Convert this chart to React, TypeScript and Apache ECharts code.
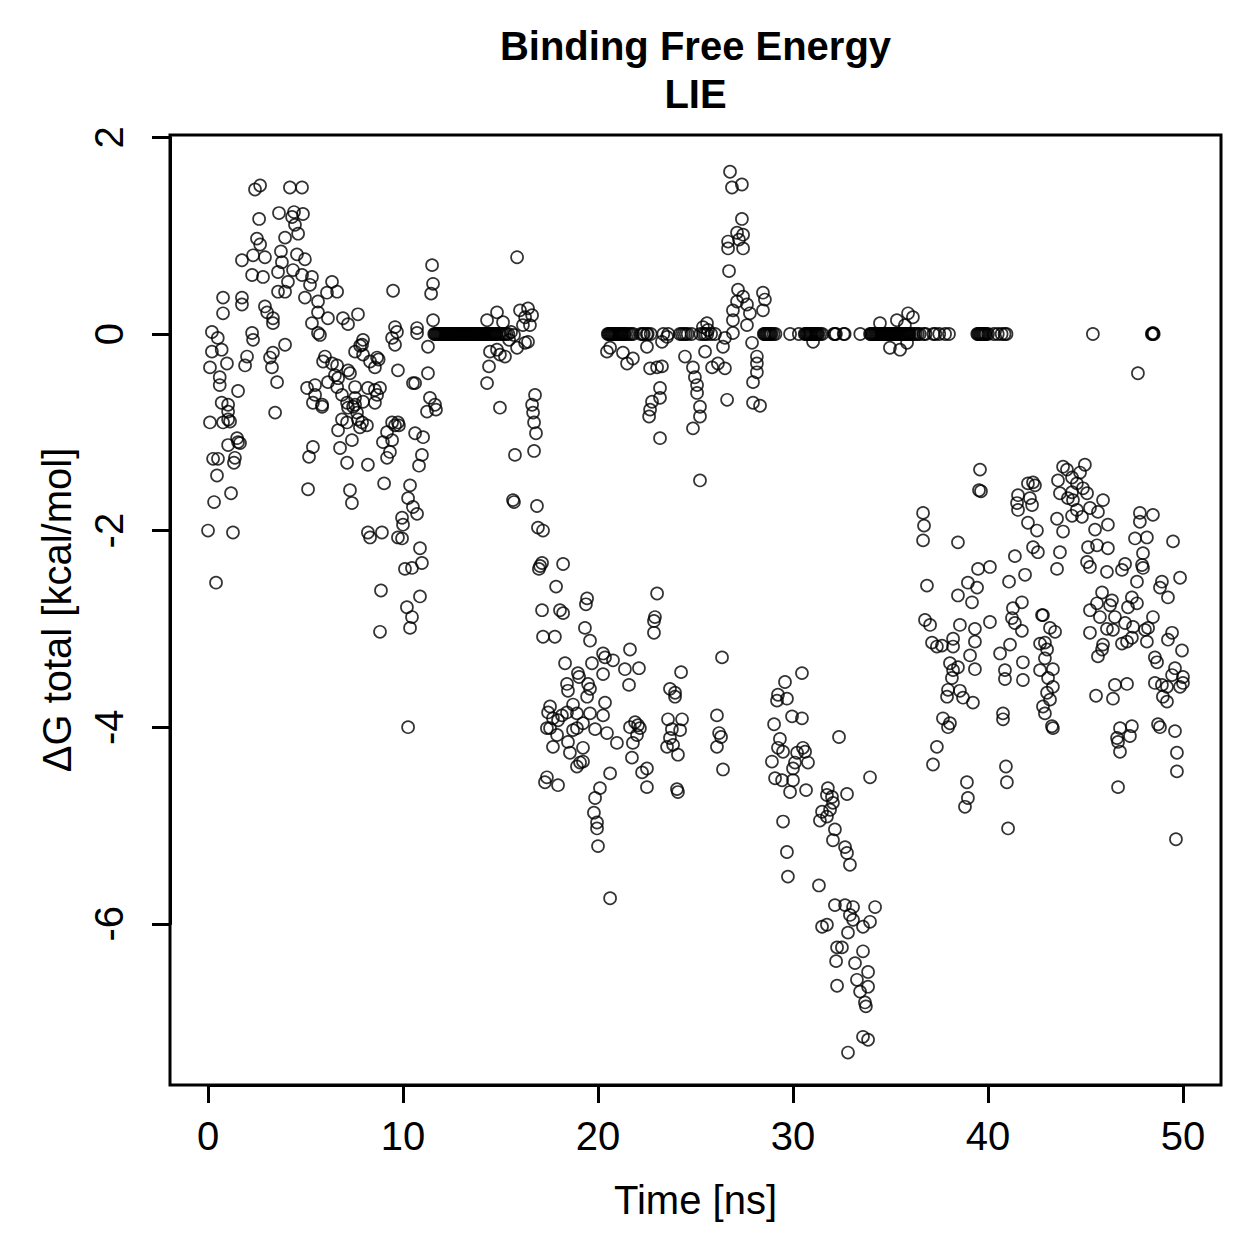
import React, { useEffect, useRef } from "react";
import * as echarts from "echarts";

// Tick values (R-style axes)
const xTicks = [0, 10, 20, 30, 40, 50];
const yTicks = [-6, -4, -2, 0, 2];
const titleLines = ["Binding Free Energy", "LIE"];
const xLabel = "Time [ns]";
const yLabel = "ΔG total [kcal/mol]";

// Data: [time ns, ΔG kcal/mol]
const pts0to5: number[][] = [
  [2.41,1.47],[2.67,1.51],[4.2,1.49],[4.82,1.49],[2.62,1.17],[3.64,1.23],[4.41,1.24],[4.87,1.22],[4.31,1.19],[4.46,1.11],
  [4.62,1.02],[3.95,0.98],[2.51,0.97],[2.67,0.91],[1.74,0.75],[2.31,0.8],[2.92,0.78],[3.74,0.84],[4.56,0.81],[4.97,0.76],
  [3.79,0.73],[3.59,0.63],[2.26,0.6],[2.82,0.58],[4.36,0.65],[4.82,0.6],[5.33,0.58],[5.23,0.5],[4.1,0.53],[3.59,0.43],
  [3.95,0.43],[4.97,0.37],[0.77,0.37],[1.74,0.37],[1.74,0.3],[0.77,0.21],[2.92,0.28],[3.03,0.22],[3.33,0.16],[3.33,0.11],
  [5.33,0.11],[0.2,0.02],[0.5,-0.04],[2.26,0.01],[2.31,-0.06],[3.95,-0.11],[0.2,-0.18],[0.7,-0.16],[0.1,-0.34],[0.97,-0.3],
  [2.0,-0.23],[1.9,-0.32],[3.18,-0.24],[3.28,-0.34],[3.33,-0.19],[0.6,-0.44],[0.6,-0.52],[1.54,-0.58],[3.54,-0.49],[5.08,-0.55],
  [5.49,-0.52],[5.49,-0.62],[5.38,-0.7],[0.7,-0.7],[1.03,-0.72],[1.03,-0.79],[3.44,-0.8],[0.1,-0.9],[0.77,-0.9],[1.03,-0.87],
  [1.13,-0.89],[1.03,-1.13],[1.49,-1.06],[1.54,-1.1],[1.64,-1.11],[0.26,-1.27],[0.51,-1.27],[1.38,-1.26],[1.33,-1.31],[0.46,-1.44],
  [1.18,-1.62],[0.31,-1.71],[0,-2.0],[1.28,-2.02],[0.41,-2.53],[5.38,-1.15],[5.18,-1.25],[5.13,-1.58]
];

const pts5to12: number[][] = [
  [6.36,0.53],[6.62,0.43],[6.1,0.42],[9.49,0.44],[5.64,0.33],[5.64,0.22],[6.15,0.16],[5.74,-0.01],[7.69,0.2],[6.92,0.16],
  [7.18,0.1],[5.64,0.01],[9.59,0.07],[9.69,0.02],[10.72,0.06],[9.44,-0.04],[9.59,-0.11],[6.0,-0.23],[5.9,-0.28],[6.36,-0.3],
  [6.62,-0.32],[6.51,-0.42],[7.28,-0.4],[7.54,-0.18],[7.9,-0.11],[7.8,-0.12],[7.95,-0.06],[8.31,-0.28],[8.67,-0.24],[8.56,-0.34],
  [8.75,-0.26],[9.74,-0.37],[10.51,-0.5],[7.95,-0.21],[5.85,-0.72],[6.15,-0.49],[6.67,-0.45],[6.62,-0.54],[6.87,-0.62],[7.18,-0.37],
  [7.54,-0.54],[7.54,-0.65],[7.95,-0.69],[8.2,-0.55],[8.56,-0.57],[8.82,-0.55],[8.67,-0.62],[8.56,-0.7],[6.87,-0.87],[7.69,-0.87],
  [7.9,-0.9],[9.44,-0.9],[9.74,-0.9],[7.18,-0.75],[7.54,-0.72],[5.85,-0.74],[7.13,-0.7],[7.44,-0.74],[7.64,-0.8],[6.67,-0.98],
  [7.13,-0.9],[7.38,-1.08],[6.77,-1.16],[7.13,-1.31],[7.79,-0.95],[8.15,-0.93],[8.2,-1.33],[7.28,-1.59],[7.38,-1.72],[8.97,-1.1],
  [9.18,-1.0],[9.44,-1.08],[9.59,-0.93],[9.18,-1.26],[9.33,-1.2],[9.03,-1.52],[9.79,-0.93],[10.26,-1.67],[10.51,-1.76],[10.72,-1.83],
  [9.95,-1.87],[10.0,-1.94],[9.95,-2.08],[9.74,-2.07],[8.2,-2.02],[8.31,-2.07],[8.92,-2.02],[10.87,-2.18],[10.97,-2.33],[10.1,-2.39],
  [10.46,-2.38],[10.87,-2.67],[8.87,-2.61],[10.2,-2.78],[10.46,-2.88],[10.36,-2.99],[8.82,-3.03],[10.26,-4.0],
  [11.49,0.7],[11.54,0.51],[11.44,0.41],[11.54,0.14],[10.72,0.01],[11.28,-0.13],[11.28,-0.4],[10.62,-0.5],[11.38,-0.65],[11.64,-0.72],
  [11.23,-0.79],[11.69,-0.77],[10.62,-1.01],[11.03,-1.05],[10.97,-1.23],[10.82,-1.34],[10.36,-1.54]
];

const pts12to17: number[][] = [
  [14.82,0.22],[14.31,0.14],[15.13,0.12],[15.85,0.78],[16.0,0.24],[16.41,0.26],[16.26,0.17],[16.62,0.19],[16.15,0.09],[16.51,0.09],
  [15.54,0.02],[15.69,-0.01],[15.44,-0.06],[14.46,-0.18],[14.82,-0.16],[14.97,-0.21],[15.23,-0.23],[15.85,-0.14],[16.26,-0.09],[16.41,-0.08],
  [14.41,-0.33],[14.31,-0.5],[14.97,-0.75],[16.77,-0.62],[16.62,-0.72],[16.67,-0.8],[16.72,-0.9],[16.82,-1.01],[16.72,-1.19],[15.74,-1.23],
  [15.64,-1.69],[15.69,-1.71]
];

// Times of the frames that sit on ΔG = 0 (the solid runs along the zero line)
const zeroRunTimes: number[] = [
  11.6,11.65,11.7,11.75,11.8,11.85,11.9,11.95,12.0,12.05,12.1,12.15,12.2,12.25,12.3,12.35,12.4,12.45,12.5,12.55,
  12.6,12.65,12.7,12.75,12.8,12.85,12.9,12.95,13.0,13.05,13.1,13.15,13.2,13.25,13.3,13.35,13.4,13.45,13.5,13.55,
  13.6,13.65,13.7,13.75,13.8,13.85,13.9,13.95,14.0,14.05,14.1,14.15,14.2,14.25,14.3,14.35,14.4,14.45,14.5,14.55,
  14.6,14.65,14.7,14.75,14.8,14.9,15.0,15.1,15.2,15.3,15.4,
  20.5,20.55,20.6,20.65,20.7,20.75,20.8,20.85,20.9,20.95,21.0,21.05,21.1,21.15,21.2,21.25,21.3,21.35,21.4,21.5,
  21.6,21.7,21.8,22.2,22.3,22.35,22.5,22.55,22.7,23.35,23.6,24.2,24.3,24.4,24.5,24.6,24.8,25.25,25.4,25.5,
  25.6,25.8,26.0,28.5,28.55,28.6,28.65,28.7,28.75,28.8,28.85,28.9,29.0,29.1,
  29.85,30.3,30.6,30.65,30.7,30.75,30.8,30.85,30.9,30.95,31.0,31.05,31.1,31.15,31.2,31.25,31.3,31.4,31.5,32.1,
  32.15,32.2,32.6,32.65,33.45,33.95,34.0,34.05,34.1,34.15,34.2,34.25,34.3,34.35,34.4,34.45,34.5,34.55,34.6,34.65,
  34.7,34.75,34.8,34.85,34.9,34.95,35.0,35.05,35.1,35.15,35.2,35.25,35.3,35.35,35.4,35.45,35.5,35.55,35.6,35.65,
  35.7,35.75,35.8,35.85,35.9,35.95,36.0,36.1,36.2,36.3,36.4,36.5,36.7,36.8,37.2,37.3,37.5,37.8,38.0,
  39.45,39.5,39.55,39.6,39.65,39.7,39.75,39.8,39.85,39.9,40.0,40.3,40.5,40.7,40.85,40.95,
  45.38,48.4,48.45,48.5
];

const pts17to21: number[][] = [
  [16.87,-1.75],[16.92,-1.97],[17.18,-2.0],[17.13,-2.33],[16.97,-2.39],[17.03,-2.36],[18.21,-2.34],[17.85,-2.57],[17.13,-2.81],[18.05,-2.81],
  [18.21,-2.84],[19.44,-2.69],[19.38,-2.75],[17.18,-3.08],[17.79,-3.08],[19.33,-2.99],[19.59,-3.12],[18.31,-3.35],[19.69,-3.35],[20.26,-3.25],
  [20.36,-3.29],[20.77,-3.32],[20.26,-3.46],[18.97,-3.45],[19.03,-3.49],[18.41,-3.56],[18.46,-3.63],[19.49,-3.56],[19.59,-3.61],[19.44,-3.69],
  [18.72,-3.77],[19.59,-3.86],[20.36,-3.75],[20.26,-3.88],[18.92,-3.86],[17.54,-3.79],[17.44,-3.85],[18.41,-3.85],[18.15,-3.88],[17.69,-3.91],
  [17.95,-3.93],[17.38,-4.01],[17.54,-4.01],[18.92,-4.01],[18.72,-4.03],[19.23,-3.96],[19.85,-4.02],[20.46,-4.06],[20.97,-4.16],[17.9,-4.08],
  [17.69,-4.2],[18.46,-4.15],[18.56,-4.26],[19.23,-4.21],[19.23,-4.35],[19.08,-4.36],[18.92,-4.4],[17.38,-4.51],[17.28,-4.56],[17.95,-4.59],
  [20.62,-4.47],[20.1,-4.62],[19.85,-4.72],[19.79,-4.87],[19.95,-4.97],[19.95,-5.03],[20.0,-5.21],[20.62,-5.74]
];

const pts21to27low: number[][] = [
  [21.64,-3.21],[21.38,-3.41],[22.1,-3.4],[21.59,-3.57],[23.03,-2.64],[22.92,-2.88],[22.87,-2.92],[22.87,-3.04],[26.36,-3.29],[24.26,-3.44],
  [23.69,-3.61],[23.95,-3.65],[23.95,-3.69],[21.64,-4.0],[21.9,-3.95],[22.05,-3.98],[22.15,-4.01],[22.0,-4.08],[21.79,-4.16],[21.74,-4.31],
  [22.26,-4.46],[22.51,-4.42],[22.51,-4.61],[23.59,-3.92],[24.31,-3.92],[23.79,-4.02],[24.21,-4.03],[23.69,-4.11],[23.54,-4.2],[23.85,-4.18],
  [24.1,-4.28],[24.05,-4.63],[24.1,-4.66],[26.1,-3.88],[26.21,-4.06],[26.31,-4.1],[26.1,-4.2],[26.41,-4.43]
];

const pts20to29top: number[][] = [
  [25.59,0.11],[25.38,0.07],
  [20.46,-0.18],[20.62,-0.14],[21.28,-0.19],[21.49,-0.3],[21.79,-0.25],[22.51,-0.13],[22.67,-0.35],[23.03,-0.34],[23.28,-0.33],[23.28,-0.08],
  [23.54,-0.03],[23.18,-0.55],[23.18,-0.65],[22.77,-0.69],[22.67,-0.77],[22.62,-0.84],[23.18,-1.06],
  [24.46,-0.23],[24.87,-0.34],[24.97,-0.44],[25.08,-0.52],[25.08,-0.6],[25.23,-0.74],[25.23,-0.84],[24.87,-0.96],[25.49,-0.18],[25.85,-0.34],
  [26.15,-0.3],[26.51,-0.35],[26.62,-0.67],[25.23,-1.49],[25.64,0.04],[26.51,-0.04],[26.92,0.01],[26.41,-0.13],
  [26.92,0.24],[26.92,0.14],[27.13,0.33],[27.18,0.45],[27.44,0.38],[27.64,0.3],[27.79,0.21],[27.64,0.09],[27.9,-0.09],[28.15,-0.23],
  [28.15,-0.3],[28.15,-0.39],[27.95,-0.49],[27.95,-0.7],[28.31,-0.73],[28.46,0.42],[28.56,0.35],[28.46,0.24],
  [26.77,1.65],[26.87,1.49],[27.38,1.52],[27.38,1.17],[27.13,1.03],[27.44,1.01],[27.23,0.96],[26.67,0.94],[26.67,0.87],[27.44,0.87],
  [26.72,0.64]
];

const pts28to35low: number[][] = [
  [30.46,-3.45],[29.59,-3.54],[29.23,-3.67],[29.18,-3.73],[29.69,-3.71],[29.95,-3.89],[30.46,-3.91],[29.03,-3.97],[29.33,-4.12],[29.23,-4.21],
  [32.36,-4.1],[29.49,-4.25],[30.21,-4.26],[30.51,-4.21],[30.62,-4.25],[28.92,-4.35],[30.1,-4.36],[30.77,-4.36],[30.0,-4.42],[29.08,-4.52],
  [29.44,-4.54],[30.0,-4.54],[29.85,-4.66],[30.67,-4.64],[33.95,-4.51],[31.79,-4.62],[31.74,-4.69],[32.0,-4.71],[32.77,-4.68],[32.05,-4.77],
  [31.49,-4.86],[31.9,-4.84],[31.38,-4.95],[31.74,-4.91],[29.49,-4.96],[32.15,-5.04],[32.05,-5.15],[32.67,-5.22],[32.77,-5.28],[32.92,-5.4],
  [29.69,-5.27],[29.74,-5.52],[31.33,-5.61],[32.15,-5.81],[32.67,-5.81],[33.08,-5.83],[34.21,-5.83],[32.92,-5.91],[33.08,-5.96],[33.95,-5.98],
  [33.59,-6.03],[31.49,-6.03],[31.74,-6.01],[32.82,-6.09],[32.26,-6.24],[32.51,-6.24],[33.59,-6.28],[32.21,-6.38],[33.18,-6.4],[33.85,-6.49],
  [33.28,-6.57],[33.85,-6.64],[32.26,-6.63],[33.44,-6.69],[33.69,-6.8],[33.74,-6.84],[33.59,-7.15],[33.85,-7.18],[32.82,-7.31]
];

const pts30to49top: number[][] = [
  [34.46,0.11],[35.33,0.14],[35.9,0.21],[36.15,0.17],[35.74,0.09],[31.03,-0.08],[34.97,-0.14],[35.49,-0.16],[35.85,-0.09],
  [48.46,0.01],[47.69,-0.4]
];

const pts36to43low: number[][] = [
  [39.59,-1.38],[39.54,-1.59],[39.64,-1.6],[36.67,-1.82],[36.72,-1.95],[36.67,-2.1],[38.46,-2.12],[42.05,-1.52],[42.31,-1.51],[42.41,-1.54],
  [41.54,-1.64],[41.49,-1.72],[41.54,-1.79],[42.15,-1.67],[42.26,-1.74],[42.05,-1.92],[42.51,-2.0],[42.31,-2.17],[42.56,-2.22],[41.38,-2.26],
  [41.9,-2.45],[41.08,-2.52],[39.49,-2.39],[40.1,-2.37],[38.97,-2.53],[39.44,-2.58],[38.46,-2.66],[39.18,-2.73],[36.87,-2.56],[41.28,-2.79],
  [41.74,-2.73],[42.77,-2.86],[41.23,-2.89],[41.38,-2.94],[41.74,-3.02],[36.77,-2.91],[37.03,-2.96],[40.1,-2.93],[38.56,-2.96],[39.33,-3.0],
  [41.13,-3.16],[40.62,-3.25],[37.13,-3.14],[37.38,-3.18],[37.64,-3.17],[38.21,-3.1],[38.21,-3.18],[39.33,-3.13],[39.08,-3.27],[41.79,-3.34],
  [42.67,-3.15],[42.67,-3.42],[38.05,-3.35],[38.21,-3.42],[38.46,-3.39],[39.33,-3.41],[40.87,-3.42],[40.87,-3.51],[41.79,-3.52],[38.15,-3.5],
  [37.95,-3.62],[37.9,-3.69],[38.56,-3.63],[38.72,-3.7],[39.23,-3.75],[37.69,-3.91],[38.05,-3.96],[37.95,-4.0],[40.77,-3.86],[40.77,-3.92],
  [37.38,-4.2],[37.18,-4.38],[38.92,-4.56],[38.97,-4.72],[38.82,-4.81],[40.92,-4.4],[40.97,-4.56],[41.03,-5.03]
];

const pts43to50low: number[][] = [
  [43.85,-1.35],[44.05,-1.38],[44.97,-1.33],[44.72,-1.41],[43.59,-1.49],[44.31,-1.46],[44.56,-1.52],[44.87,-1.57],[43.69,-1.62],[44.31,-1.61],
  [45.08,-1.62],[44.1,-1.67],[44.36,-1.69],[45.9,-1.69],[44.56,-1.79],[45.23,-1.77],[45.64,-1.81],[44.31,-1.85],[44.82,-1.86],[43.54,-1.88],
  [43.85,-2.01],[46.15,-1.94],[45.49,-1.99],[47.79,-1.82],[47.79,-1.91],[48.46,-1.84],[47.54,-2.08],[48.15,-2.07],[49.49,-2.11],[45.13,-2.17],
  [45.59,-2.15],[46.15,-2.18],[43.69,-2.22],[47.95,-2.23],[43.54,-2.39],[45.08,-2.32],[45.23,-2.37],[46.1,-2.42],[46.87,-2.4],[47.03,-2.34],
  [47.9,-2.35],[47.95,-2.38],[47.64,-2.52],[49.85,-2.48],[48.92,-2.52],[48.82,-2.58],[49.23,-2.68],[45.85,-2.63],[45.59,-2.74],[46.36,-2.71],
  [46.26,-2.76],[45.23,-2.81],[45.74,-2.88],[46.51,-2.88],[47.38,-2.68],[47.64,-2.74],[47.18,-2.78],[48.46,-2.88],[45.23,-3.04],[46.1,-3.0],
  [46.41,-3.01],[47.03,-2.94],[47.44,-2.98],[48.05,-3.01],[48.21,-2.99],[48.15,-3.13],[49.23,-3.11],[49.44,-3.04],[49.95,-3.22],[45.9,-3.16],
  [45.85,-3.21],[45.64,-3.28],[46.87,-3.15],[47.13,-3.13],[47.38,-3.09],[48.56,-3.29],[48.67,-3.34],[49.59,-3.4],[49.44,-3.47],[50.0,-3.49],
  [48.56,-3.55],[48.92,-3.57],[49.18,-3.59],[49.85,-3.59],[50.0,-3.55],[48.97,-3.69],[49.18,-3.74],[46.51,-3.57],[47.13,-3.56],[45.54,-3.68],
  [46.41,-3.71],[48.72,-3.97],[48.82,-4.0],[49.59,-4.04],[46.77,-4.01],[47.38,-3.99],[47.28,-4.09],[46.62,-4.11],[46.67,-4.15],[46.77,-4.25],
  [49.69,-4.26],[49.69,-4.45],[46.67,-4.61],[49.64,-5.14],
  [42.82,-2.86],[43.18,-2.99],[43.44,-3.03],[42.92,-3.14],[43.03,-3.21],[42.92,-3.3],[43.33,-3.41],[43.08,-3.5],[43.33,-3.59],[43.03,-3.65],
  [43.18,-3.72],[42.82,-3.79],[42.92,-3.86],[43.28,-3.99],[43.33,-4.01]
];

const FONT = '"Liberation Sans", Arial, Helvetica, sans-serif';

export default function App() {
  const ref = useRef<HTMLDivElement>(null);
  useEffect(() => {
    if (!ref.current) return;
    const chart = echarts.init(ref.current, null, { renderer: "svg" });
    const zeroRun = zeroRunTimes.map((t) => [t, 0]);
    const data = ([] as number[][]).concat(
      pts0to5, pts5to12, zeroRun, pts12to17, pts17to21, pts21to27low, pts20to29top,
      pts28to35low, pts30to49top, pts36to43low, pts43to50low
    );
    chart.setOption({
      animation: false,
      backgroundColor: "#ffffff",
      grid: [
        { left: 170, right: 38, top: 135, bottom: 174, show: true, borderColor: "#000", borderWidth: 3, backgroundColor: "transparent" },
        { left: 208, right: 76, top: 137.4, bottom: 335.2, show: false }
      ],
      xAxis: [
        { gridIndex: 0, type: "value", min: -1.95, max: 51.95, show: false },
        {
          gridIndex: 1, type: "value", min: xTicks[0], max: xTicks[xTicks.length - 1], interval: 10,
          position: "bottom", offset: 161.2,
          axisLine: { show: true, onZero: false, lineStyle: { color: "#000", width: 3 } },
          axisTick: { show: true, inside: false, length: 18, lineStyle: { color: "#000", width: 3 } },
          axisLabel: { show: true, color: "#000", fontSize: 40, fontFamily: FONT, margin: 31 },
          splitLine: { show: false }
        }
      ],
      yAxis: [
        { gridIndex: 0, type: "value", min: -7.64, max: 2.024, show: false },
        {
          gridIndex: 1, type: "value", min: yTicks[0], max: yTicks[yTicks.length - 1], interval: 2,
          position: "left", offset: 38,
          axisLine: { show: true, onZero: false, lineStyle: { color: "#000", width: 3 } },
          axisTick: { show: true, inside: false, length: 18, lineStyle: { color: "#000", width: 3 } },
          axisLabel: { show: true, color: "#000", fontSize: 40, fontFamily: FONT, margin: 41, rotate: 90 },
          splitLine: { show: false }
        }
      ],
      series: [
        {
          type: "scatter", xAxisIndex: 0, yAxisIndex: 0, data,
          symbol: "circle", symbolSize: 12,
          itemStyle: { color: "rgba(0,0,0,0)", borderColor: "#000", borderWidth: 1.7 },
          silent: true
        }
      ],
      graphic: [
        { type: "text", x: 695.5, y: 46, style: { text: titleLines[0], fontSize: 40, fontWeight: "bold", fontFamily: FONT, fill: "#000", align: "center", verticalAlign: "middle" } },
        { type: "text", x: 695.5, y: 94, style: { text: titleLines[1], fontSize: 40, fontWeight: "bold", fontFamily: FONT, fill: "#000", align: "center", verticalAlign: "middle" } },
        { type: "text", x: 695.5, y: 1200, style: { text: xLabel, fontSize: 40, fontFamily: FONT, fill: "#000", align: "center", verticalAlign: "middle" } },
        { type: "text", x: 57, y: 610, rotation: Math.PI / 2, style: { text: yLabel, fontSize: 40, fontFamily: FONT, fill: "#000", align: "center", verticalAlign: "middle" } }
      ]
    });
    return () => chart.dispose();
  }, []);
  return <div ref={ref} style={{ position: "fixed", left: 0, top: 0, width: 1259, height: 1259 }} />;
}
